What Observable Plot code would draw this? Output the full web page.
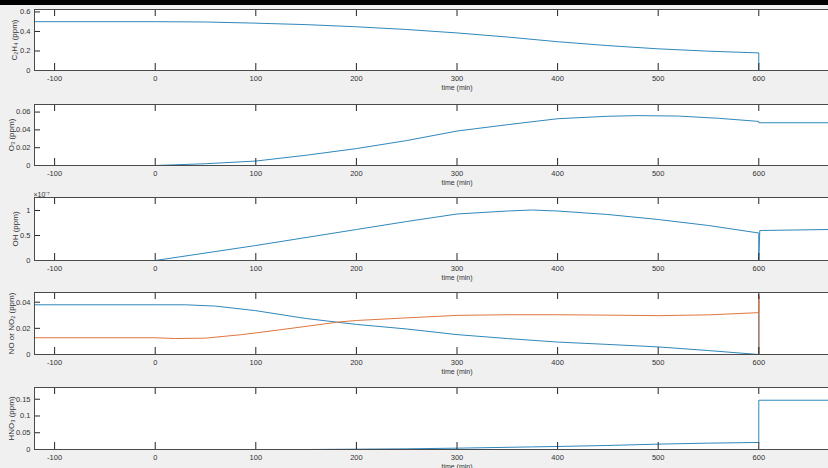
<!DOCTYPE html>
<html><head><meta charset="utf-8">
<script src="https://cdn.jsdelivr.net/npm/d3@7"></script>
<script src="https://cdn.jsdelivr.net/npm/@observablehq/plot@0.6"></script>
<style>
html,body{margin:0;padding:0;background:#f0f0f0;width:828px;height:468px;overflow:hidden;position:relative;}
#topbar{position:absolute;left:0;top:0;width:828px;height:5px;background:#000;}
.panel{position:absolute;left:0;width:879px;}
</style></head><body>
<div id="topbar"></div>
<div id="root"></div>
<script>
// ---- axis ticks ----
const xTicks = [-100, 0, 100, 200, 300, 400, 500, 600];
const c2h4Ticks = [0, 0.2, 0.4, 0.6];
const o3Ticks = [0, 0.02, 0.04, 0.06];
const ohTicks = [0, 0.5e-7, 1e-7];
const noxTicks = [0, 0.02, 0.04];
const hno3Ticks = [0, 0.05, 0.1, 0.15];

// ---- C2H4 ----
const c2h4Time  = [-120, 0, 50, 100, 150, 200, 250, 300, 350, 400, 450, 500, 550, 600, 600, 720];
const c2h4Value = [0.5, 0.5, 0.497, 0.485, 0.47, 0.448, 0.42, 0.385, 0.343, 0.295, 0.255, 0.222, 0.198, 0.18, 0, 0];

// ---- O3 ----
const o3Time  = [-120, 0, 50, 100, 150, 200, 250, 300, 350, 400, 450, 480, 520, 560, 600, 600, 720];
const o3Value = [0, 0, 0.002, 0.005, 0.0115, 0.019, 0.028, 0.0387, 0.0458, 0.0525, 0.0553, 0.056, 0.0555, 0.053, 0.0495, 0.048, 0.048];

// ---- OH ----
const ohTime  = [-120, 0, 100, 200, 250, 300, 350, 374, 400, 450, 500, 550, 600, 600, 601, 670, 720];
const ohValue = [0, 0, 0.30e-7, 0.62e-7, 0.78e-7, 0.93e-7, 0.99e-7, 1.01e-7, 0.99e-7, 0.92e-7, 0.82e-7, 0.70e-7, 0.55e-7, 0, 0.60e-7, 0.62e-7, 0.63e-7];

// ---- NO (blue) ----
const noTime  = [-120, 0, 30, 60, 100, 150, 200, 250, 300, 350, 400, 450, 500, 550, 600, 600, 600, 720];
const noValue = [0.038, 0.038, 0.038, 0.037, 0.0335, 0.0275, 0.023, 0.0195, 0.0152, 0.0122, 0.0095, 0.0077, 0.0058, 0.003, 0, 0.045, 0, 0];

// ---- NO2 (orange) ----
const no2Time  = [-120, 0, 20, 50, 86, 100, 145, 182, 200, 250, 300, 350, 400, 450, 500, 550, 600, 600, 600, 720];
const no2Value = [0.0128, 0.0128, 0.0122, 0.0125, 0.0152, 0.0165, 0.021, 0.0248, 0.026, 0.028, 0.0299, 0.0304, 0.0304, 0.0301, 0.0297, 0.0303, 0.032, 0.046, 0, 0];

// ---- HNO3 ----
const hno3Time  = [-120, 150, 200, 250, 300, 374, 400, 450, 500, 550, 600, 600, 720];
const hno3Value = [0, 0, 0.001, 0.002, 0.004, 0.0077, 0.009, 0.012, 0.016, 0.019, 0.021, 0.147, 0.147];

const BLUE = "#2f88bb", ORANGE = "#e0763f";
const rows = (t, v) => t.map((x, i) => ({t: x, v: v[i]}));

const W = 879, ML = 34, MT = 10, MB = 30;
const FONT = "'Liberation Sans', Arial, Helvetica, sans-serif";

function panel({top, innerH, yDomain, yTicks, yFmt, yLabel, labelDx, series, exponent}) {
  const H = innerH + MT + MB;
  const marks = [
    Plot.frame({fill: "white", stroke: "none"}),
    ...series.map(s => Plot.line(rows(s.t, s.v), {x: "t", y: "v", stroke: s.color, strokeWidth: 1})),
    Plot.ruleX(xTicks, {stroke: "#262626", insetTop: innerH - 7}),
    Plot.ruleX(xTicks, {stroke: "#262626", insetBottom: innerH - 7}),
    Plot.ruleY(yTicks, {stroke: "#262626", insetRight: (W - ML) - 6}),
    Plot.frame({stroke: "#4a4a4a"}),
    Plot.axisX(xTicks, {tickSize: 0, tickPadding: 5, tickFormat: d => String(d), label: null, fontSize: 7.5}),
    Plot.axisY(yTicks, {tickSize: 0, tickPadding: 4, tickFormat: yFmt, label: null, fontSize: 7.5}),
    Plot.text([yLabel], {text: d => d, frameAnchor: "left", textAnchor: "middle", lineAnchor: "middle", rotate: -90, dx: labelDx, fontSize: 8}),
    Plot.text(["time (min)"], {text: d => d, frameAnchor: "bottom", textAnchor: "middle", lineAnchor: "middle", dy: 17, fontSize: 7})
  ];
  if (exponent) marks.push(Plot.text([exponent], {text: d => d, frameAnchor: "top-left", textAnchor: "start", lineAnchor: "bottom", dy: -1, dx: -1, fontSize: 7}));
  const p = Plot.plot({
    width: W, height: H,
    marginLeft: ML, marginRight: 0, marginTop: MT, marginBottom: MB,
    x: {domain: [-120, 720], axis: null},
    y: {domain: yDomain, axis: null},
    style: {background: "transparent", maxWidth: "none", overflow: "visible", fontFamily: FONT, color: "#333"},
    marks
  });
  const d = document.createElement("div");
  d.className = "panel";
  d.style.top = (top - MT) + "px";
  d.appendChild(p);
  document.getElementById("root").appendChild(d);
}

const fmtPlain = d => String(d);

panel({top: 9, innerH: 61, yDomain: [0, 0.625], yTicks: c2h4Ticks, yFmt: fmtPlain, yLabel: "C₂H₄ (ppm)", labelDx: -20,
  series: [{t: c2h4Time, v: c2h4Value, color: BLUE}]});
panel({top: 104, innerH: 61, yDomain: [0, 0.0685], yTicks: o3Ticks, yFmt: fmtPlain, yLabel: "O₃ (ppm)", labelDx: -23.5,
  series: [{t: o3Time, v: o3Value, color: BLUE}]});
panel({top: 197, innerH: 63, yDomain: [0, 1.26e-7], yTicks: ohTicks, yFmt: d => String(+((d * 1e7).toFixed(2))), yLabel: "OH (ppm)", labelDx: -19,
  series: [{t: ohTime, v: ohValue, color: BLUE}], exponent: "×10⁻⁷"});
panel({top: 292, innerH: 62, yDomain: [0, 0.0474], yTicks: noxTicks, yFmt: fmtPlain, yLabel: "NO or NO₂ (ppm)", labelDx: -23,
  series: [{t: noTime, v: noValue, color: BLUE}, {t: no2Time, v: no2Value, color: ORANGE}]});
panel({top: 387, innerH: 62, yDomain: [0, 0.185], yTicks: hno3Ticks, yFmt: fmtPlain, yLabel: "HNO₃ (ppm)", labelDx: -23,
  series: [{t: hno3Time, v: hno3Value, color: BLUE}]});
</script>
</body></html>
